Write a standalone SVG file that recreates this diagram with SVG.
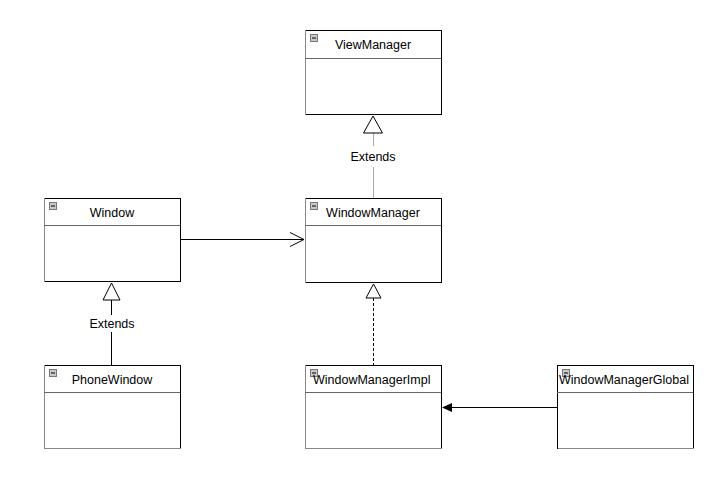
<svg xmlns="http://www.w3.org/2000/svg" width="726" height="499" viewBox="0 0 726 499">
<style>
.box{fill:#fff;stroke:none}
.e1{stroke:#000;stroke-width:1}
.e2{stroke:#888;stroke-width:1}
.e3{stroke:#666;stroke-width:1}
.title{font-family:"Liberation Sans",Arial,sans-serif;font-size:12.5px;fill:#000}
.lbl{font-family:"Liberation Sans",Arial,sans-serif;font-size:12.5px;fill:#000;text-anchor:middle}
.ico{fill:#c8c8c8;stroke:#777;stroke-width:1}
</style>
<defs>
<g id="icon"><rect class="ico" x="0.5" y="0.5" width="7" height="7"/><line x1="2" y1="4" x2="6" y2="4" stroke="#222" stroke-width="1.2"/></g>
</defs>
<rect width="726" height="499" fill="#fff"/>
<g id="ViewManager">
<rect class="box" x="305" y="30" width="136" height="85"/>
<line class="e1" x1="305" y1="30.5" x2="441" y2="30.5"/>
<line class="e1" x1="441.5" y1="30" x2="441.5" y2="115"/>
<line class="e1" x1="305" y1="114.5" x2="442" y2="114.5"/>
<line class="e2" x1="305.5" y1="30" x2="305.5" y2="115"/>
<line class="e3" x1="305" y1="58.5" x2="441" y2="58.5"/>
<use href="#icon" x="310" y="34"/>
<text class="title" x="373" y="49" text-anchor="middle">ViewManager</text>
</g>
<g id="Window">
<rect class="box" x="44" y="198" width="136" height="84"/>
<line class="e1" x1="44" y1="198.5" x2="180" y2="198.5"/>
<line class="e1" x1="180.5" y1="198" x2="180.5" y2="282"/>
<line class="e1" x1="44" y1="281.5" x2="181" y2="281.5"/>
<line class="e2" x1="44.5" y1="198" x2="44.5" y2="282"/>
<line class="e3" x1="44" y1="225.5" x2="180" y2="225.5"/>
<use href="#icon" x="49" y="202"/>
<text class="title" x="112" y="217" text-anchor="middle">Window</text>
</g>
<g id="WindowManager">
<rect class="box" x="305" y="198" width="136" height="85"/>
<line class="e1" x1="305" y1="198.5" x2="441" y2="198.5"/>
<line class="e1" x1="441.5" y1="198" x2="441.5" y2="283"/>
<line class="e1" x1="305" y1="282.5" x2="442" y2="282.5"/>
<line class="e2" x1="305.5" y1="198" x2="305.5" y2="283"/>
<line class="e3" x1="305" y1="225.5" x2="441" y2="225.5"/>
<use href="#icon" x="310" y="202"/>
<text class="title" x="373" y="217" text-anchor="middle">WindowManager</text>
</g>
<g id="PhoneWindow">
<rect class="box" x="44" y="365" width="136" height="84"/>
<line class="e1" x1="44" y1="365.5" x2="180" y2="365.5"/>
<line class="e1" x1="180.5" y1="365" x2="180.5" y2="449"/>
<line class="e2" x1="44" y1="448.5" x2="181" y2="448.5"/>
<line class="e2" x1="44.5" y1="365" x2="44.5" y2="449"/>
<line class="e3" x1="44" y1="392.5" x2="180" y2="392.5"/>
<use href="#icon" x="49" y="369"/>
<text class="title" x="112" y="384" text-anchor="middle">PhoneWindow</text>
</g>
<g id="WindowManagerImpl">
<rect class="box" x="305" y="365" width="136" height="84"/>
<line class="e1" x1="305" y1="365.5" x2="441" y2="365.5"/>
<line class="e1" x1="441.5" y1="365" x2="441.5" y2="449"/>
<line class="e2" x1="305" y1="448.5" x2="442" y2="448.5"/>
<line class="e2" x1="305.5" y1="365" x2="305.5" y2="449"/>
<line class="e3" x1="305" y1="392.5" x2="441" y2="392.5"/>
<use href="#icon" x="310" y="369"/>
<text class="title" x="313" y="384">WindowManagerImpl</text>
</g>
<g id="WindowManagerGlobal">
<rect class="box" x="557" y="365" width="136" height="84"/>
<line class="e1" x1="557" y1="365.5" x2="693" y2="365.5"/>
<line class="e1" x1="693.5" y1="365" x2="693.5" y2="449"/>
<line class="e2" x1="557" y1="448.5" x2="694" y2="448.5"/>
<line class="e1" x1="557.5" y1="365" x2="557.5" y2="449"/>
<line class="e3" x1="557" y1="392.5" x2="693" y2="392.5"/>
<use href="#icon" x="562" y="369"/>
<text class="title" x="559" y="384">WindowManagerGlobal</text>
</g>
<g id="connectors">
<line x1="373.5" y1="133" x2="373.5" y2="146" stroke="#aaa"/>
<line x1="373.5" y1="167" x2="373.5" y2="198" stroke="#aaa"/>
<polygon points="373,116 363.5,133 382.5,133" fill="#fff" stroke="#000"/>
<text class="lbl" x="373" y="161">Extends</text>
<line x1="181" y1="239.5" x2="304" y2="239.5" stroke="#000"/>
<polyline points="290,232.5 304,239.5 290,246.5" fill="none" stroke="#000"/>
<line x1="111.5" y1="300" x2="111.5" y2="315" stroke="#000"/>
<line x1="111.5" y1="332" x2="111.5" y2="365" stroke="#000"/>
<polygon points="111.5,283 103,300 120,300" fill="#fff" stroke="#000"/>
<text class="lbl" x="112" y="328">Extends</text>
<line x1="373.5" y1="298" x2="373.5" y2="365" stroke="#000" stroke-dasharray="3,2"/>
<polygon points="373.5,284 366,298 381,298" fill="#fff" stroke="#000"/>
<line x1="450" y1="407.5" x2="557" y2="407.5" stroke="#000"/>
<polygon points="442,407.5 452,403 452,412" fill="#000"/>
</g>
</svg>
